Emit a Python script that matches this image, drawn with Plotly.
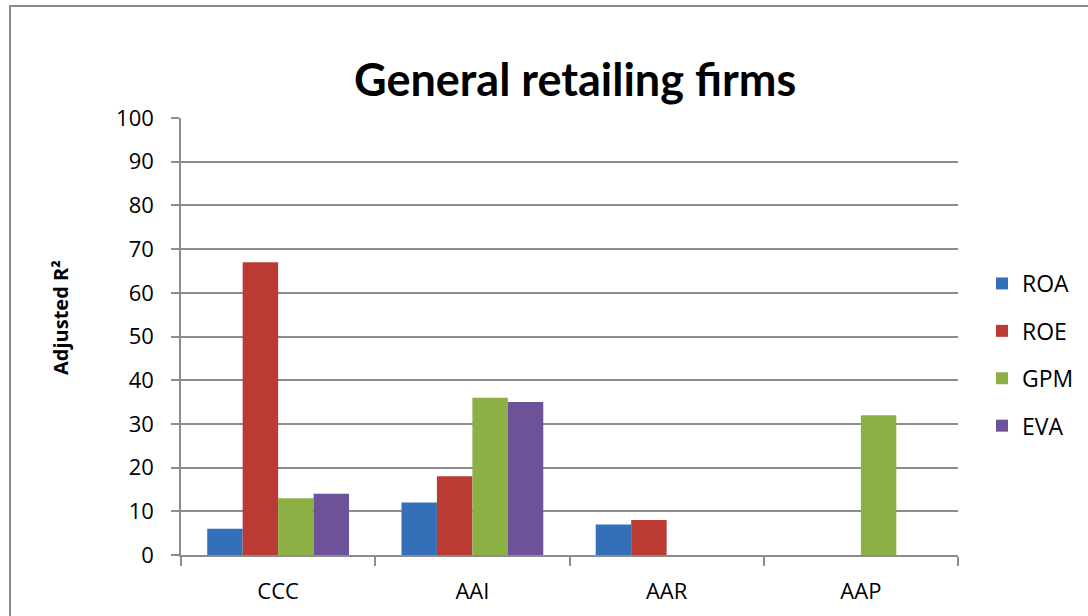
import plotly.graph_objects as go

categories = ["CCC", "AAI", "AAR", "AAP"]
series_names = ["ROA", "ROE", "GPM", "EVA"]
roa = [6, 12, 7, 0]
roe = [67, 18, 8, 0]
gpm = [13, 36, 0, 32]
eva = [14, 35, 0, 0]
y_ticks = [0, 10, 20, 30, 40, 50, 60, 70, 80, 90, 100]

colors = ["#3470B8", "#BC3A34", "#8CB044", "#6D5199"]
values = [roa, roe, gpm, eva]

W, H = 1088, 616
PL, PR, PT, PB = 181, 958, 118, 555   # plot area in page pixels
pw, ph = PR - PL, PB - PT

def px_x(p):
    return (p - PL) / pw

def px_y(p):
    return (PB - p) / ph

font_family = "'Open Sans', sans-serif"

fig = go.Figure()
for name, vals, c in zip(series_names, values, colors):
    fig.add_trace(go.Bar(
        name=name, x=categories, y=vals, legendgroup=name,
        marker=dict(color=c, line=dict(width=0)),
    ))

fig.update_layout(
    width=W, height=H,
    margin=dict(l=PL, r=W - PR, t=PT, b=H - PB, autoexpand=False),
    paper_bgcolor="white", plot_bgcolor="white",
    barmode="group", bargap=0.27, bargroupgap=0,
    font=dict(family=font_family, size=22, color="black"),
    showlegend=True,
    legend=dict(
        x=px_x(982), y=px_y(262), xanchor="left", yanchor="top",
        font=dict(size=23), itemwidth=30, tracegroupgap=14.5,
        traceorder="grouped", bgcolor="rgba(0,0,0,0)",
    ),
    annotations=[
        dict(text="<b>General retailing firms</b>", x=px_x(575), y=px_y(79),
             xref="paper", yref="paper", showarrow=False,
             xanchor="center", yanchor="middle",
             font=dict(size=45, family="Lato, 'Open Sans', sans-serif",
                       color="black")),
        dict(text="<b>Adjusted R²</b>", x=px_x(60), y=px_y(318),
             xref="paper", yref="paper", showarrow=False, textangle=-90,
             xanchor="center", yanchor="middle",
             font=dict(size=20, family=font_family, color="black")),
    ],
    shapes=[
        dict(type="rect", xref="paper", yref="paper",
             x0=px_x(10), x1=px_x(1120), y0=px_y(660), y1=px_y(6),
             line=dict(color="#8a8a8a", width=2), fillcolor="rgba(0,0,0,0)",
             layer="below"),
    ],
)

fig.update_yaxes(
    range=[0, 100], tickvals=y_ticks, ticktext=[str(v) for v in y_ticks],
    showgrid=True, gridcolor="#8c8c8c", gridwidth=1.5,
    showline=True, linecolor="#8c8c8c", linewidth=1.5,
    ticks="outside", ticklen=8, tickcolor="#8c8c8c", tickwidth=1.5,
    tickfont=dict(size=22), zeroline=False, ticklabelstandoff=13,
)
fig.update_xaxes(
    showline=True, linecolor="#8c8c8c", linewidth=1.5,
    ticks="outside", tickson="boundaries", ticklen=9,
    tickcolor="#8c8c8c", tickwidth=1.5,
    tickfont=dict(size=22), showgrid=False, ticklabelstandoff=16,
)

fig.write_html(
    "out.html",
    config={"displayModeBar": False},
    post_script="document.body.style.margin='0';document.body.style.padding='0';",
)
